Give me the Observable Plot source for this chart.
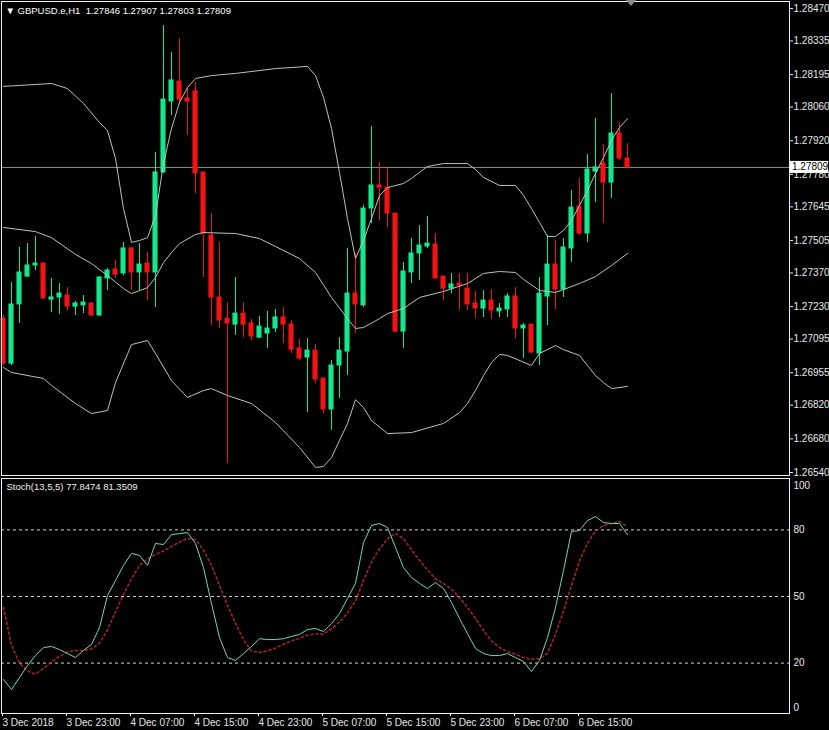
<!DOCTYPE html>
<html>
<head>
<meta charset="utf-8">
<script src="https://cdn.jsdelivr.net/npm/d3@7"></script>
<script src="https://cdn.jsdelivr.net/npm/@observablehq/plot@0.6"></script>
<style>
  html, body { margin: 0; padding: 0; background: #000; }
  #chart { width: 829px; background: #000; }
  #chart svg { display: block; }
</style>
</head>
<body>
<div id="chart"></div>
<script>
// ---------- DATA ----------
const symbolTitle = "\u25BC GBPUSD.e,H1\u00a0 1.27846 1.27907 1.27803 1.27809";
const stochTitle = "Stoch(13,5,5) 77.8474 81.3509";

// hourly bars, index 0 = 3 Dec 2018 15:00
const open = [1.27180,1.26993,1.27239,1.27355,1.27401,1.27409,1.27259,1.27268,1.27276,1.27230,
  1.27235,1.27243,1.27193,1.27347,1.27384,1.27368,1.27472,1.27372,1.27409,1.27372,
  1.27788,1.28083,1.28166,1.28096,1.28125,1.27788,1.27526,1.27268,1.27180,1.27155,
  1.27201,1.27160,1.27101,1.27118,1.27139,1.27185,1.27155,1.27056,1.27018,1.27047,
  1.26931,1.26802,1.26985,1.27043,1.27284,1.27235,1.27638,1.27734,1.27725,1.27617,
  1.27126,1.27372,1.27451,1.27480,1.27488,1.27355,1.27305,1.27326,1.27305,1.27243,
  1.27222,1.27255,1.27210,1.27218,1.27272,1.27139,1.27155,1.27035,1.27272,1.27405,
  1.27301,1.27472,1.27646,1.27534,1.27792,1.27825,1.27746,1.27950,1.27846];
const high = [1.27193,1.27330,1.27476,1.27492,1.27522,1.27413,1.27347,1.27326,1.27309,1.27251,
  1.27276,1.27247,1.27355,1.27388,1.27422,1.27497,1.27476,1.27492,1.27455,1.27871,
  1.28399,1.28287,1.28345,1.28141,1.28162,1.27788,1.27617,1.27497,1.27247,1.27351,
  1.27247,1.27176,1.27189,1.27210,1.27218,1.27226,1.27172,1.27093,1.27097,1.27072,
  1.26931,1.27006,1.27101,1.27472,1.27451,1.27651,1.27979,1.27829,1.27804,1.27617,
  1.27413,1.27513,1.27567,1.27605,1.27534,1.27355,1.27368,1.27368,1.27368,1.27293,
  1.27297,1.27301,1.27243,1.27284,1.27309,1.27160,1.27155,1.27351,1.27526,1.27505,
  1.27513,1.27713,1.27763,1.27863,1.28012,1.27904,1.28116,1.27992,1.27907];
const low = [1.26985,1.26985,1.27160,1.27351,1.27380,1.27260,1.27205,1.27197,1.27210,1.27193,
  1.27201,1.27189,1.27189,1.27297,1.27347,1.27359,1.27297,1.27297,1.27255,1.27226,
  1.27784,1.28025,1.28075,1.27942,1.27700,1.27351,1.27151,1.27139,1.26577,1.27110,
  1.27101,1.27089,1.27097,1.27056,1.27122,1.27076,1.27035,1.27006,1.26789,1.26910,
  1.26785,1.26715,1.26848,1.26943,1.27118,1.27226,1.27576,1.27588,1.27559,1.27122,
  1.27056,1.27326,1.27339,1.27472,1.27343,1.27255,1.27284,1.27214,1.27214,1.27180,
  1.27185,1.27176,1.27185,1.27185,1.27097,1.27014,1.27035,1.26985,1.27151,1.27218,
  1.27268,1.27413,1.27526,1.27497,1.27663,1.27576,1.27680,1.27838,1.27803];
const close = [1.26993,1.27239,1.27372,1.27401,1.27409,1.27264,1.27268,1.27284,1.27230,1.27243,
  1.27247,1.27193,1.27351,1.27380,1.27363,1.27472,1.27372,1.27405,1.27372,1.27788,
  1.28091,1.28171,1.28091,1.28083,1.27784,1.27534,1.27268,1.27172,1.27160,1.27201,
  1.27155,1.27106,1.27147,1.27139,1.27185,1.27155,1.27051,1.27014,1.27047,1.26927,
  1.26802,1.26985,1.27047,1.27284,1.27239,1.27638,1.27734,1.27725,1.27617,1.27126,
  1.27376,1.27451,1.27484,1.27492,1.27347,1.27305,1.27322,1.27318,1.27239,1.27222,
  1.27255,1.27214,1.27222,1.27272,1.27139,1.27151,1.27039,1.27284,1.27405,1.27301,
  1.27476,1.27642,1.27534,1.27800,1.27809,1.27746,1.27950,1.27846,1.27809];

// Bollinger bands, read at bar indices
const upperIdx = [0,6,8,10,12,13,14,15,16,17,18,19,20,21,22,23,24,26,29,34,38,39,40,41,42,43,44,45,46,47,48,50,51,53,55,58,59,60,62,64,65,66,67,68,69,70,71,72,73,74,75,76,77,78];
const upperVal = [1.28146,1.28158,1.28137,1.28075,1.27996,1.27962,1.27846,1.27638,1.27497,1.27505,1.27517,1.27609,1.27825,1.27971,1.28079,1.28141,1.28179,1.28191,1.28200,1.28220,1.28229,1.28191,1.28100,1.27971,1.27788,1.27596,1.27430,1.27505,1.27596,1.27692,1.27725,1.27742,1.27763,1.27813,1.27825,1.27825,1.27800,1.27767,1.27734,1.27734,1.27692,1.27638,1.27580,1.27522,1.27522,1.27547,1.27588,1.27651,1.27713,1.27784,1.27850,1.27921,1.27975,1.28012];
const middleIdx = [0,4,6,9,11,13,15,16,18,19,20,21,22,24,25,29,32,34,37,39,41,43,44,45,47,48,50,52,55,58,60,62,64,65,67,69,70,72,74,76,78];
const middleVal = [1.27559,1.27542,1.27517,1.27447,1.27409,1.27359,1.27305,1.27284,1.27309,1.27351,1.27413,1.27455,1.27492,1.27530,1.27538,1.27534,1.27513,1.27480,1.27430,1.27372,1.27268,1.27180,1.27139,1.27143,1.27180,1.27201,1.27222,1.27268,1.27293,1.27326,1.27368,1.27376,1.27372,1.27343,1.27297,1.27289,1.27301,1.27326,1.27355,1.27401,1.27451];
const lowerIdx = [0,1,5,6,9,11,13,14,16,18,19,21,23,25,26,28,31,34,37,39,40,41,42,43,44,45,46,48,51,55,57,58,59,60,61,62,63,66,67,69,70,72,73,74,75,76,78];
const lowerVal = [1.26977,1.26956,1.26931,1.26902,1.26827,1.26785,1.26798,1.26914,1.27072,1.27089,1.27035,1.26922,1.26852,1.26881,1.26889,1.26860,1.26827,1.26748,1.26644,1.26561,1.26565,1.26602,1.26673,1.26744,1.26843,1.26810,1.26756,1.26702,1.26706,1.26744,1.26789,1.26827,1.26881,1.26943,1.26997,1.27031,1.27027,1.26985,1.27035,1.27068,1.27051,1.27027,1.26985,1.26943,1.26914,1.26889,1.26898];

// Stochastic (13,5,5): main and signal
const stochMain = [12.6,8.1,13.5,18.9,23.4,27.0,27.5,26.1,24.3,22.5,
  25.7,28.4,36.0,50.5,57.2,64.0,69.4,68.5,64.0,73.9,
  73.4,77.9,78.3,78.8,73.9,63.0,46.8,31.5,22.5,21.2,
  24.3,27.5,31.0,30.6,30.6,31.0,32.0,32.9,35.1,35.6,
  34.2,37.8,42.3,49.1,55.9,74.3,82.0,82.9,81.1,72.1,
  63.0,58.6,55.9,53.6,56.3,53.6,47.3,40.1,33.3,26.6,
  24.3,23.4,23.4,24.3,22.5,20.7,16.2,21.2,31.5,45.0,
  61.7,79.3,79.7,84.2,86.0,83.3,82.9,82.9,77.8474];
const stochSignal = [45.0,28.0,20.0,16.5,15.0,17.6,20.5,23.0,25.0,25.7,
  25.7,26.3,29.0,35.0,43.0,51.0,58.0,64.0,67.0,69.0,
  70.5,72.5,74.5,76.2,75.5,71.0,64.0,55.0,46.0,38.0,
  30.5,25.5,24.8,25.5,26.8,28.5,30.0,31.2,32.5,33.2,
  33.0,35.5,38.5,42.5,48.0,57.2,65.5,71.5,76.0,78.5,
  76.1,71.0,66.3,62.0,58.0,55.9,53.3,49.5,45.0,40.2,
  34.7,30.0,27.0,25.2,24.0,22.5,21.8,22.0,24.5,33.0,
  43.5,55.0,66.0,74.0,79.5,82.0,82.9,83.8,81.3509];
const stochLevels = [80, 50, 20];
const stochTicks = [0, 20, 50, 80, 100];

const priceTicks = [1.28470,1.28335,1.28195,1.28060,1.27920,1.27780,1.27645,1.27505,1.27370,1.27230,1.27095,1.26955,1.26820,1.26680,1.26540];
const timeTickIdx = [0, 8, 16, 24, 32, 40, 48, 56, 64, 72];
const timeTickLabels = ["3 Dec 2018","3 Dec 23:00","4 Dec 07:00","4 Dec 15:00","4 Dec 23:00","5 Dec 07:00","5 Dec 15:00","5 Dec 23:00","6 Dec 07:00","6 Dec 15:00"];

// ---------- BUILD ----------
const bull = "#18e68a", bear = "#f21414", bandColor = "#b6c6bc";
const candles = open.map((o, i) => ({i, open: o, high: high[i], low: low[i], close: close[i]}));
const colorOf = d => d.close >= d.open ? bull : bear;
const upper = upperIdx.map((i, k) => ({i, v: upperVal[k]}));
const middle = middleIdx.map((i, k) => ({i, v: middleVal[k]}));
const lower = lowerIdx.map((i, k) => ({i, v: lowerVal[k]}));
const lastClose = close[close.length - 1];

const xDomain = [-0.25, 98.25];
const font = "'Liberation Sans', 'DejaVu Sans', sans-serif";

const main = Plot.plot({
  width: 829, height: 477,
  marginTop: 1, marginBottom: 2, marginLeft: 1, marginRight: 40,
  style: {background: "#000", color: "#e8e8e8", fontFamily: font, fontSize: "10px"},
  x: {domain: xDomain, axis: null},
  y: {domain: [1.265275, 1.284991], axis: null},
  marks: [
    Plot.ruleY([lastClose], {stroke: "#8e8e8e", strokeWidth: 1}),
    Plot.ruleX(candles, {x: "i", y1: "low", y2: "high", stroke: colorOf, strokeWidth: 1}),
    Plot.rect(candles, {x1: d => d.i - 0.32, x2: d => d.i + 0.32, y1: "open", y2: "close", fill: colorOf, insetTop: -0.5, insetBottom: -0.5}),
    Plot.line(upper, {x: "i", y: "v", stroke: bandColor, strokeWidth: 1}),
    Plot.line(middle, {x: "i", y: "v", stroke: bandColor, strokeWidth: 1}),
    Plot.line(lower, {x: "i", y: "v", stroke: bandColor, strokeWidth: 1}),
    Plot.frame({stroke: "#f0f0f0", strokeWidth: 1}),
    Plot.axisY(priceTicks, {anchor: "right", tickSize: 3, tickPadding: 1, tickFormat: d => d.toFixed(5), fontSize: 10, stroke: "#f0f0f0", fill: "#e8e8e8"}),
    Plot.text([symbolTitle], {frameAnchor: "top-left", textAnchor: "start", lineAnchor: "middle", dx: 4, dy: 9, fill: "#ffffff", fontSize: 9.5})
  ]
});

const stoch = Plot.plot({
  width: 829, height: 253,
  marginTop: 1, marginBottom: 17, marginLeft: 1, marginRight: 40,
  style: {background: "#000", color: "#e8e8e8", fontFamily: font, fontSize: "10px"},
  x: {domain: xDomain, axis: null},
  y: {domain: [-2.7, 103.15], axis: null},
  marks: [
    Plot.ruleY(stochLevels, {stroke: "#d4d4d4", strokeDasharray: "3,3", strokeWidth: 1}),
    Plot.line(stochSignal, {x: (d, i) => i, y: d => d, stroke: "#c8282c", strokeWidth: 1.6, strokeDasharray: "2,3", strokeOpacity: 0.85}),
    Plot.line(stochMain, {x: (d, i) => i, y: d => d, stroke: "#6fd8c2", strokeWidth: 1}),
    Plot.frame({stroke: "#f0f0f0", strokeWidth: 1}),
    Plot.axisY(stochTicks, {anchor: "right", tickSize: 0, tickPadding: 4, fontSize: 10, fill: "#e8e8e8"}),
    Plot.axisX(timeTickIdx, {anchor: "bottom", tickSize: 3, tickPadding: 2, textAnchor: "start", dx: -1,
      tickFormat: i => timeTickLabels[timeTickIdx.indexOf(i)], fontSize: 10, stroke: "#f0f0f0", fill: "#e8e8e8"}),
    Plot.text([stochTitle], {frameAnchor: "top-left", textAnchor: "start", lineAnchor: "middle", dx: 5, dy: 8, fill: "#f0f0f0", fontSize: 9.5})
  ]
});

const chart = document.getElementById("chart");
chart.appendChild(main);
chart.appendChild(stoch);

// current price marker on the price scale (covers the axis label beneath it, as in the terminal)
const svg = d3.select(main);
const yPx = main.scale("y").apply(lastClose);
svg.append("rect").attr("x", 790).attr("y", yPx - 6).attr("width", 38).attr("height", 12).attr("fill", "#ffffff");
svg.append("text").attr("x", 792).attr("y", yPx).attr("dy", "0.35em").attr("text-anchor", "start")
  .attr("fill", "#000").attr("font-size", 10).attr("font-family", font).text(lastClose.toFixed(5));
// chart-shift marker
const xShift = main.scale("x").apply(78.5);
svg.append("path").attr("d", `M${xShift - 5},0 L${xShift + 5},0 L${xShift},6 Z`).attr("fill", "#8a8a8a");
</script>
</body>
</html>
